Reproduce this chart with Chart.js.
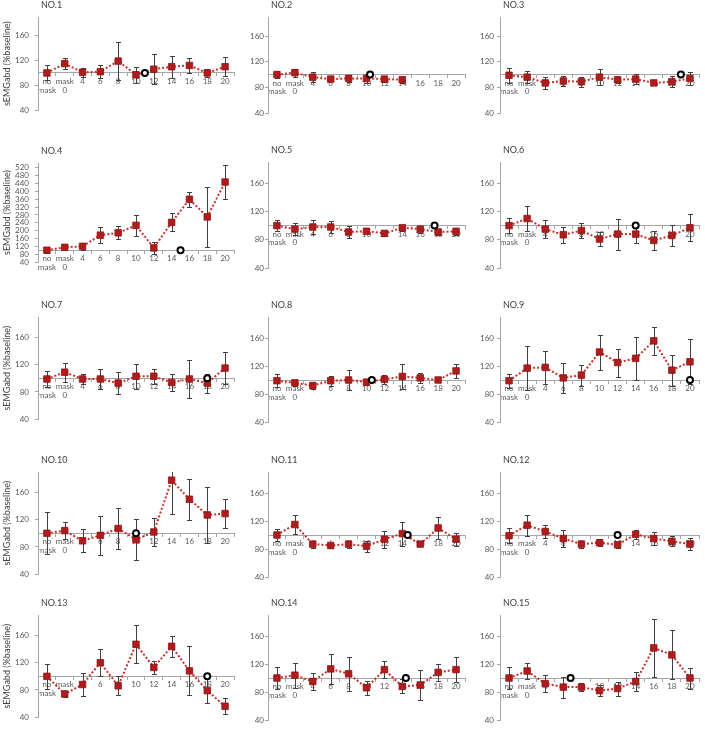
<!DOCTYPE html>
<html>
<head>
<meta charset="utf-8">
<script src="https://cdn.jsdelivr.net/npm/chart.js@4.4.0/dist/chart.umd.min.js"></script>
<style>
  body { margin: 0; background: #fff; width: 705px; height: 731px; position: relative; overflow: hidden; }
  canvas { position: absolute; }
</style>
</head>
<body>
<script>
// categories (x) shared by every panel
const xLabels = [['no', 'mask'], ['mask', '0'], '4', '6', '8', '10', '12', '14', '16', '18', '20'];
const titles = ['NO.1', 'NO.2', 'NO.3', 'NO.4', 'NO.5', 'NO.6', 'NO.7', 'NO.8', 'NO.9', 'NO.10', 'NO.11', 'NO.12', 'NO.13', 'NO.14', 'NO.15'];
const yTitle = 'sEMGabd (%baseline)';

// mean and error (+/-) per subject
const no1Mean = [100, 115, 101, 102, 119, 97, 106, 110, 112, 100, 110];
const no1Err  = [12, 9, 7, 10, 30, 13, 24, 18, 12, 7, 15];
const no2Mean = [100, 103, 96, 93, 94, 94, 93, 92, null, null, null];
const no2Err  = [6, 6, 8, 3, 6, 7, 5, 5, null, null, null];
const no3Mean = [99, 96, 87, 90, 89, 96, 92, 93, 87, 89, 94];
const no3Err  = [12, 9, 9, 8, 8, 13, 5, 8, 4, 9, 10];
const no4Mean = [100, 115, 120, 177, 189, 227, 112, 242, 360, 270, 448];
const no4Err  = [13, 6, 17, 39, 33, 53, 32, 46, 39, 152, 86];
const no5Mean = [100, 95, 98, 98, 91, 92, 89, 97, 95, 91, 92];
const no5Err  = [8, 8, 10, 8, 9, 3, 4, 4, 5, 4, 5];
const no6Mean = [100, 110, 95, 87, 93, 81, 88, 88, 79, 86, 97];
const no6Err  = [11, 18, 13, 11, 11, 10, 22, 12, 13, 15, 19];
const no7Mean = [99, 109, 99, 99, 93, 103, 103, 94, 99, 93, 115];
const no7Err  = [12, 14, 8, 14, 16, 18, 11, 13, 28, 14, 24];
const no8Mean = [99, 96, 92, 99, 100, 97, 101, 105, 103, 100, 113];
const no8Err  = [9, 4, 5, 7, 14, 4, 6, 18, 7, 3, 10];
const no9Mean = [99, 117, 118, 103, 107, 140, 125, 131, 156, 114, 126];
const no9Err  = [10, 31, 23, 21, 15, 25, 20, 31, 20, 22, 32];
const no10Mean = [100, 104, 89, 97, 107, 91, 102, 178, 150, 127, 129];
const no10Err  = [31, 13, 17, 29, 30, 30, 20, 50, 30, 41, 21];
const no11Mean = [100, 115, 87, 85, 87, 84, 94, 102, 87, 110, 94];
const no11Err  = [9, 13, 5, 4, 5, 8, 12, 17, 3, 16, 9];
const no12Mean = [99, 114, 105, 95, 87, 89, 86, 101, 95, 91, 87];
const no12Err  = [11, 15, 9, 12, 5, 5, 4, 6, 9, 7, 9];
const no13Mean = [100, 74, 88, 120, 86, 147, 113, 144, 108, 79, 56];
const no13Err  = [18, 5, 17, 20, 14, 28, 9, 15, 36, 18, 12];
const no14Mean = [100, 104, 95, 113, 106, 86, 112, 88, 90, 108, 112];
const no14Err  = [16, 18, 12, 22, 24, 10, 12, 10, 22, 12, 18];
const no15Mean = [100, 110, 92, 87, 87, 82, 85, 95, 143, 133, 100];
const no15Err  = [16, 12, 12, 15, 6, 8, 10, 14, 42, 35, 15];

// open circle marker (position in category units, on the 100 line)
const circleAt = [5.5, 5.2, 9.5, 7.5, 8.8, 7, 9, 5.3, 10, 5, 7.3, 6, 9, 7.2, 3.4];
const yMaxes = [190, 190, 190, 545, 190, 190, 190, 190, 190, 190, 190, 190, 190, 190, 190];
const yStep = 40;

const means = [no1Mean, no2Mean, no3Mean, no4Mean, no5Mean, no6Mean, no7Mean, no8Mean, no9Mean, no10Mean, no11Mean, no12Mean, no13Mean, no14Mean, no15Mean];
const errs = [no1Err, no2Err, no3Err, no4Err, no5Err, no6Err, no7Err, no8Err, no9Err, no10Err, no11Err, no12Err, no13Err, no14Err, no15Err];

// panel layout
const cols = [{ left: 38, right: 238 }, { left: 268, right: 469 }, { left: 500, right: 703 }];
const rows = [{ top: 17, bottom: 113 }, { top: 162, bottom: 268 }, { top: 317, bottom: 422 }, { top: 472, bottom: 577 }, { top: 615, bottom: 720 }];

Chart.defaults.font.family = 'Lato, "Liberation Sans", sans-serif';
Chart.defaults.font.size = 8;
Chart.defaults.color = '#595959';

function makePanel(k) {
    const col = cols[k % 3];
    let row = rows[Math.floor(k / 3)];
    if (k === 3) row = { top: 163, bottom: 262 };
    const padBottom = k === 3 ? 22 : 8;
    const cLeft = col.left - 38;
    const cTop = row.top - 18;
    const w = col.right + 2 - cLeft;
    const h = row.bottom + padBottom - cTop;

    const canvas = document.createElement('canvas');
    canvas.width = w;
    canvas.height = h;
    canvas.style.left = cLeft + 'px';
    canvas.style.top = cTop + 'px';
    document.body.appendChild(canvas);

    const m = means[k];
    const e = errs[k];

    // vertical error bars with caps, clipped to the plot
    const errorBars = {
        id: 'errorBars' + k,
        beforeDatasetsDraw(chart) {
            const { ctx, chartArea } = chart;
            const xs = chart.scales.x, ys = chart.scales.y;
            ctx.save();
            ctx.beginPath();
            ctx.rect(chartArea.left, chartArea.top, chartArea.width, chartArea.height);
            ctx.clip();
            ctx.strokeStyle = '#404040';
            ctx.lineWidth = 1;
            m.forEach((v, i) => {
                if (v == null) return;
                const x = Math.round(xs.getPixelForValue(i)) + 0.5;
                const top = Math.round(ys.getPixelForValue(v + e[i])) + 0.5;
                const bot = Math.round(ys.getPixelForValue(v - e[i])) + 0.5;
                ctx.beginPath();
                ctx.moveTo(x, top); ctx.lineTo(x, bot);
                ctx.moveTo(x - 2.5, top); ctx.lineTo(x + 2.5, top);
                ctx.moveTo(x - 2.5, bot); ctx.lineTo(x + 2.5, bot);
                ctx.stroke();
            });
            ctx.restore();
        }
    };

    const panelTitle = {
        id: 'panelTitle' + k,
        afterDraw(chart) {
            const { ctx, chartArea } = chart;
            ctx.save();
            ctx.font = '9px Lato, "Liberation Sans", sans-serif';
            ctx.fillStyle = '#404040';
            ctx.textBaseline = 'middle';
            ctx.fillText(titles[k], chartArea.left + 3, chartArea.top - 12);
            ctx.restore();
        }
    };

    const yPad = [6, 1, 3][k % 3];

    new Chart(canvas, {
        type: 'line',
        data: {
            datasets: [
                {
                    data: [{ x: circleAt[k], y: 100 }],
                    showLine: false,
                    pointStyle: 'circle',
                    pointRadius: 3,
                    pointBorderWidth: 2,
                    pointBorderColor: '#000',
                    pointBackgroundColor: '#fff',
                    order: 0
                },
                {
                    data: m.map((v, i) => ({ x: i, y: v })),
                    borderColor: '#c8302c',
                    borderWidth: 2,
                    borderDash: [2, 2],
                    pointStyle: 'rect',
                    pointRadius: 4.6,
                    pointBackgroundColor: '#b01c1c',
                    pointBorderColor: '#8e1414',
                    pointBorderWidth: 0.8,
                    spanGaps: false,
                    order: 1
                }
            ]
        },
        options: {
            responsive: false,
            animation: false,
            layout: { padding: { top: 18, right: 2, bottom: padBottom, left: 0 } },
            plugins: { legend: { display: false }, tooltip: { enabled: false } },
            scales: {
                x: {
                    type: 'linear',
                    min: -0.5,
                    max: 10.5,
                    position: { y: 100 },
                    afterBuildTicks: s => { s.ticks = xLabels.map((l, i) => ({ value: i })); },
                    ticks: {
                        autoSkip: false,
                        maxRotation: 0,
                        padding: 1,
                        color: '#595959',
                        font: { size: 8, lineHeight: 1.1 },
                        callback: v => xLabels[v]
                    },
                    grid: { display: true, drawOnChartArea: false, offset: true, tickLength: 3, color: '#a6a6a6' },
                    border: { color: '#a6a6a6' }
                },
                y: {
                    type: 'linear',
                    min: 40,
                    max: yMaxes[k],
                    afterBuildTicks: s => {
                        const t = [];
                        for (let v = 40; v <= s.max; v += yStep) t.push({ value: v });
                        s.ticks = t;
                    },
                    afterFit: s => { s.width = 38; },
                    ticks: { autoSkip: false, padding: yPad, color: '#595959', font: { size: 8 } },
                    grid: { drawOnChartArea: false, tickLength: 3, color: '#a6a6a6' },
                    border: { color: '#a6a6a6' },
                    title: {
                        display: k % 3 === 0,
                        text: yTitle,
                        color: '#404040',
                        font: { size: 9 },
                        padding: { top: 2, bottom: 0 }
                    }
                }
            }
        },
        plugins: [errorBars, panelTitle]
    });
}

for (let k = 0; k < 15; k++) makePanel(k);
</script>
</body>
</html>
